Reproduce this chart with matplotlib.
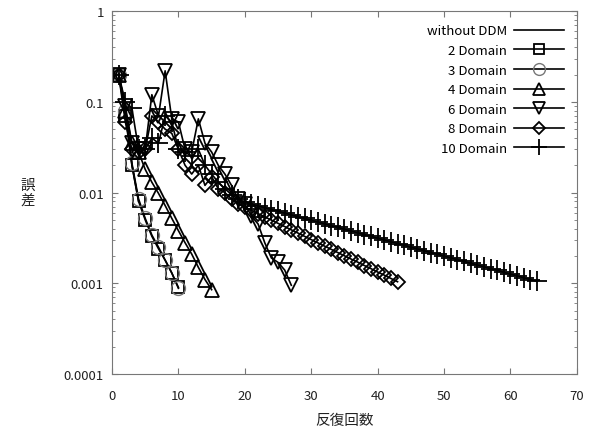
import matplotlib
matplotlib.use("Agg")
import matplotlib.pyplot as plt
from matplotlib.ticker import FixedLocator, FixedFormatter, LogLocator, NullFormatter

plt.rcParams['font.family'] = ['Noto Sans CJK JP', 'DejaVu Sans']

# data
x_nodd = [1, 2, 3, 4]
y_nodd = [0.2, 0.09, 0.02, 0.008]

x_d2 = list(range(1, 11))
y_d2 = [0.2, 0.07, 0.02, 0.008, 0.005, 0.0033, 0.0024, 0.0018, 0.0013, 0.0009]

x_d3 = list(range(1, 11))
y_d3 = [0.2, 0.08, 0.021, 0.0085, 0.0052, 0.0034, 0.0025, 0.0018, 0.0013, 0.00088]

x_d4 = list(range(1, 16))
y_d4 = [0.2, 0.08, 0.035, 0.028, 0.018, 0.013, 0.0098, 0.0072, 0.0052,
        0.0038, 0.0028, 0.0021, 0.0015, 0.0011, 0.00085]

x_d6 = list(range(1, 28))
y_d6 = [0.2, 0.09, 0.035, 0.03, 0.03, 0.12, 0.07, 0.22, 0.065, 0.06,
        0.03, 0.028, 0.065, 0.035, 0.028, 0.02, 0.016, 0.012, 0.0085, 0.0075,
        0.0055, 0.0045, 0.0028, 0.0019, 0.0017, 0.0014, 0.00095]

x_d8 = list(range(1, 44))
y_d8 = [0.2, 0.06, 0.03, 0.028, 0.03, 0.07, 0.06, 0.05, 0.045, 0.03,
        0.02, 0.016, 0.02, 0.012, 0.015, 0.011, 0.01, 0.0085, 0.0075,
        0.00691, 0.00636, 0.00586, 0.0054, 0.00497, 0.00458, 0.00422, 0.00388,
        0.00358, 0.00329, 0.00303, 0.00279, 0.00257, 0.00237, 0.00218, 0.00201,
        0.00185, 0.00171, 0.00157, 0.00145, 0.00133, 0.00123, 0.00113, 0.00104]

x_d10 = list(range(1, 65))
y_d10 = [0.2, 0.1, 0.085, 0.03, 0.03, 0.04, 0.035, 0.07, 0.06, 0.03,
         0.028, 0.025, 0.03, 0.02, 0.016, 0.013, 0.011, 0.0095, 0.0085,
         0.0078, 0.00745, 0.00712, 0.00681, 0.0065, 0.00621, 0.00594, 0.00567,
         0.00542, 0.00518, 0.00495, 0.00473, 0.00452, 0.00432, 0.00413, 0.00394,
         0.00377, 0.0036, 0.00344, 0.00329, 0.00314, 0.003, 0.00287, 0.00274,
         0.00262, 0.0025, 0.00239, 0.00229, 0.00218, 0.00209, 0.00199, 0.00191,
         0.00182, 0.00174, 0.00166, 0.00159, 0.00152, 0.00145, 0.00139, 0.00132,
         0.00126, 0.00121, 0.00115, 0.0011, 0.00105]

fig = plt.figure(figsize=(5.99, 4.35), dpi=100)
ax = fig.add_axes([0.187, 0.138, 0.776, 0.834])

kw = dict(color='black', lw=1.2, fillstyle='none', mew=1.3)
ax.plot(x_nodd, y_nodd, '-', color='black', lw=1.2, label='without DDM')
ax.plot(x_d2, y_d2, marker='s', ms=8.5, label='2 Domain', **kw)
ax.plot(x_d3, y_d3, marker='o', color='black', lw=1.2, fillstyle='none',
        mew=1.0, ms=10, mec='#777777', label='3 Domain')
ax.plot(x_d4, y_d4, marker='^', ms=10.5, label='4 Domain', **kw)
ax.plot(x_d6, y_d6, marker='v', ms=10.5, label='6 Domain', **kw)
ax.plot(x_d8, y_d8, marker='D', ms=7.5, label='8 Domain', **kw)
ax.plot(x_d10, y_d10, marker='+', label='10 Domain', color='black', lw=1.2,
        mew=1.3, ms=14)

ax.set_yscale('log')
ax.set_xlim(0, 70)
ax.set_ylim(0.0001, 1)
ax.set_xticks(range(0, 71, 10))
ax.yaxis.set_major_locator(FixedLocator([0.0001, 0.001, 0.01, 0.1, 1]))
ax.yaxis.set_major_formatter(FixedFormatter(['0.0001', '0.001', '0.01', '0.1', '1']))
ax.yaxis.set_minor_locator(LogLocator(base=10, subs=range(2, 10)))
ax.yaxis.set_minor_formatter(NullFormatter())

for s in ax.spines.values():
    s.set_color('#777777')
ax.tick_params(which='both', direction='in', top=True, right=True,
               colors='#777777', labelcolor='#222222', labelsize=9.5)
ax.tick_params(which='major', length=4)
ax.tick_params(which='minor', length=2)
ax.tick_params(axis='x', pad=11)
ax.tick_params(axis='y', pad=6)

ax.set_xlabel('反復回数', fontsize=10.5, labelpad=8, color='#222222')
ax.set_ylabel('誤\n差', fontsize=10.5, rotation=0, labelpad=26, va='center',
              color='#222222', linespacing=1.05)

leg = ax.legend(loc='upper right', frameon=False, markerfirst=False,
                fontsize=9.5, handlelength=3.8, labelspacing=0.5,
                borderaxespad=0.6, handletextpad=0.5, markerscale=0.85)

fig.savefig('out.png', dpi=100)
